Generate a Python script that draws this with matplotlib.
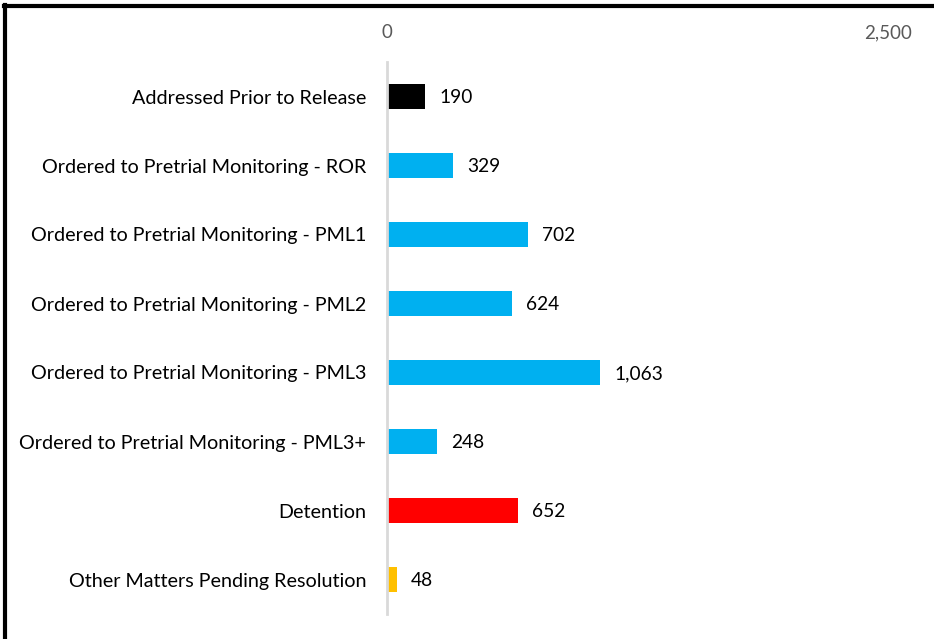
import matplotlib.pyplot as plt
from matplotlib.lines import Line2D

categories = [
    "Addressed Prior to Release",
    "Ordered to Pretrial Monitoring - ROR",
    "Ordered to Pretrial Monitoring - PML1",
    "Ordered to Pretrial Monitoring - PML2",
    "Ordered to Pretrial Monitoring - PML3",
    "Ordered to Pretrial Monitoring - PML3+",
    "Detention",
    "Other Matters Pending Resolution",
]
values = [190, 329, 702, 624, 1063, 248, 652, 48]
colors = ["#000000", "#00b0f0", "#00b0f0", "#00b0f0", "#00b0f0", "#00b0f0", "#ff0000", "#ffc000"]
xticks = [0, 2500]

plt.rcParams['font.family'] = ['Lato', 'DejaVu Sans']

fig = plt.figure(figsize=(9.34, 6.39), dpi=100)
ax = fig.add_axes([387 / 934, 1 - 614 / 639, (888 - 387) / 934, (614 - 62) / 639])

y = list(range(len(categories)))
ax.barh(y, values, height=0.36, color=colors)
for yi, v in zip(y, values):
    ax.text(v + 72, yi + 0.02, f"{v:,}", va='center', ha='left', fontsize=13.8, color='black')

ax.set_xlim(0, 2500)
ax.set_ylim(len(categories) - 0.5, -0.5)
ax.set_yticks(y)
ax.set_yticklabels(categories, fontsize=14.2, color='black')
ax.set_xticks(xticks)
ax.set_xticklabels([f"{t:,}" for t in xticks], fontsize=13.5, color='#595959')
ax.xaxis.tick_top()
ax.tick_params(axis='x', length=0, pad=15)
ax.tick_params(axis='y', length=0, pad=15)

for s in ['top', 'right', 'bottom']:
    ax.spines[s].set_visible(False)
ax.spines['left'].set_color('#d9d9d9')
ax.spines['left'].set_linewidth(2)

# outer frame (top and left edges)
fig.add_artist(Line2D([4 / 934, 1], [1 - 6 / 639, 1 - 6 / 639], color='black', lw=3, transform=fig.transFigure))
fig.add_artist(Line2D([5 / 934, 5 / 934], [0, 1 - 5 / 639], color='black', lw=3, transform=fig.transFigure))

fig.savefig("out.png", dpi=100)
